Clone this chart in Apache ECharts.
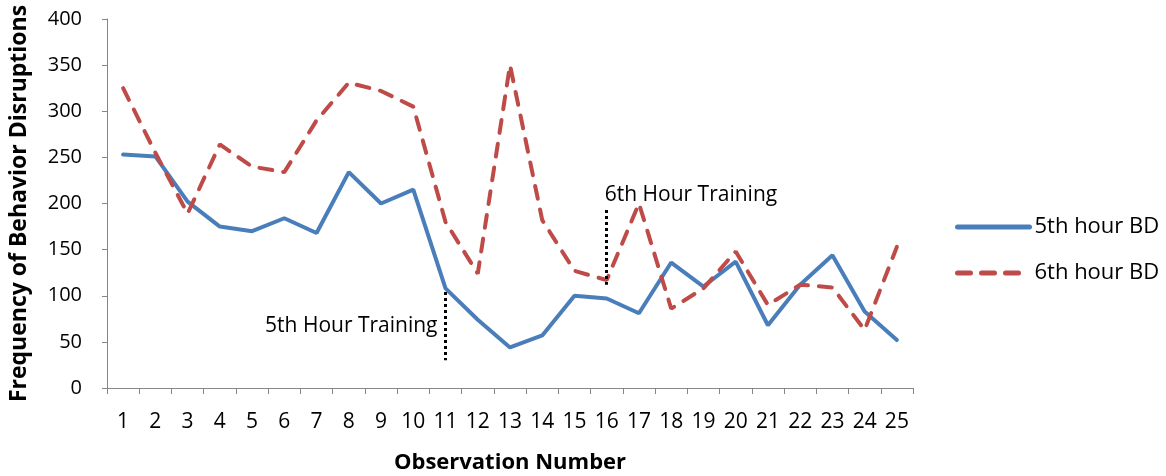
<!DOCTYPE html>
<html>
<head>
<meta charset="utf-8">
<script src="https://cdn.jsdelivr.net/npm/echarts@6/dist/echarts.min.js"></script>
<style>
  html, body { margin: 0; padding: 0; background: #fff; }
  #main { width: 1166px; height: 476px; }
</style>
</head>
<body>
<div id="main"></div>
<script>
// observation numbers
var observations = ['1','2','3','4','5','6','7','8','9','10','11','12','13','14','15','16','17','18','19','20','21','22','23','24','25'];
// 5th hour behavior disruptions
var fifthHour = [253, 251, 202, 175, 170, 184, 168, 234, 200, 215, 108, 74, 44, 57, 100, 97, 81, 136, 110, 137, 68, 112, 144, 83, 52];
// 6th hour behavior disruptions
var sixthHour = [325, 255, 189, 264, 240, 234, 290, 331, 322, 305, 180, 124, 350, 182, 127, 117, 200, 86, 108, 148, 90, 112, 109, 63, 153];
var yTicks = [0, 50, 100, 150, 200, 250, 300, 350, 400];

var fontName = 'Open Sans';
var axisGray = '#868686';

var chart = echarts.init(document.getElementById('main'));

//training markers: dotted verticals
var dotted = { color: '#000', type: [3, 3], width: 3 };

chart.setOption({
    animation: false,
    grid: { left: 107, right: 253, top: 19, bottom: 88, containLabel: false, outerBoundsMode: 'none' },
    legend: {
        orient: 'vertical',
        left: 950,
        top: 211,
        itemWidth: 72,
        itemHeight: 14,
        itemGap: 24,
        itemStyle: { opacity: 0 },
        lineStyle: { width: 5, cap: 'round' },
        textStyle: { fontFamily: fontName, fontSize: 22, color: '#000', padding: [0, 0, 0, 0] },
        data: ['5th hour BD', '6th hour BD']
    },
    xAxis: {
        type: 'category',
        data: observations,
        boundaryGap: true,
        name: 'Observation Number',
        nameLocation: 'middle',
        nameGap: 64,
        nameTextStyle: { fontFamily: fontName, fontSize: 22, fontWeight: 'bold', color: '#000' },
        axisLine: { lineStyle: { color: axisGray, width: 1 } },
        axisTick: { show: true, length: 6, lineStyle: { color: axisGray } },
        axisLabel: { fontFamily: fontName, fontSize: 21, color: '#000', margin: 24, interval: 0 },
        splitLine: { show: false }
    },
    yAxis: {
        type: 'value',
        min: yTicks[0],
        max: yTicks[yTicks.length - 1],
        interval: yTicks[1] - yTicks[0],
        name: 'Frequency of Behavior Disruptions',
        nameLocation: 'middle',
        nameGap: 76,
        nameTextStyle: { fontFamily: fontName, fontSize: 23, fontWeight: 'bold', color: '#000' },
        axisLine: { show: true, lineStyle: { color: axisGray, width: 1 } },
        axisTick: { show: true, length: 5, lineStyle: { color: axisGray } },
        axisLabel: { fontFamily: fontName, fontSize: 20, color: '#000', margin: 25 },
        splitLine: { show: false }
    },
    series: [{
        name: '5th hour BD',
        type: 'line',
        data: fifthHour,
        symbol: 'none',
        lineStyle: { color: '#4a7ebb', width: 4, cap: 'round' },
        itemStyle: { color: '#4a7ebb' },
        markLine: {
            silent: true,
            symbol: 'none',
            label: { show: false },
            lineStyle: dotted,
            data: [
                [{ coord: ['11', 104] }, { coord: ['11', 30] }],
                [{ coord: ['16', 193] }, { coord: ['16', 112] }]
            ]
        },
        markPoint: {
            symbol: 'circle',
            symbolSize: 0,
            data: [{
                coord: ['11', 67],
                label: { show: true, position: 'left', distance: 8, formatter: '5th Hour Training',
                         fontFamily: fontName, fontSize: 21, color: '#000' }
            }, {
                coord: ['16', 209],
                label: { show: true, position: 'right', distance: -2, formatter: '6th Hour Training',
                         fontFamily: fontName, fontSize: 21, color: '#000' }
            }]
        }
    }, {
        name: '6th hour BD',
        type: 'line',
        data: sixthHour,
        symbol: 'none',
        lineStyle: { color: '#be4b48', width: 4, type: [13, 11], cap: 'round' },
        itemStyle: { color: '#be4b48' }
    }]
});
</script>
</body>
</html>
